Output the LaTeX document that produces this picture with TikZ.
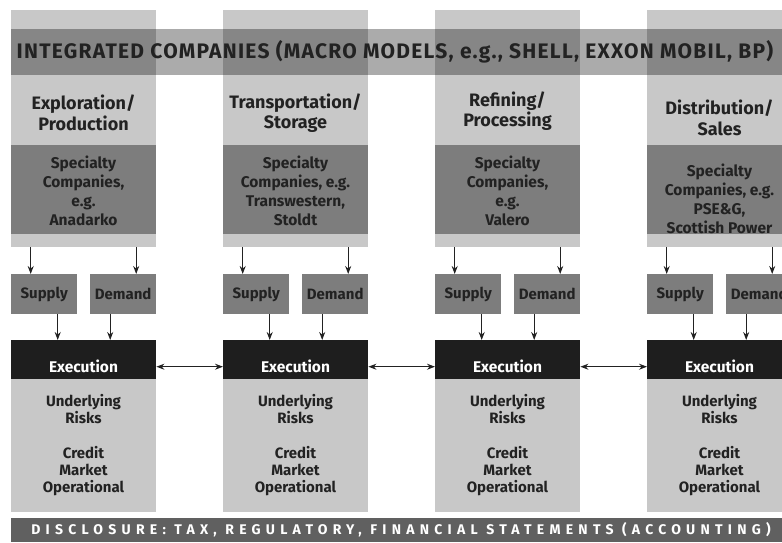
\documentclass[tikz,border=0pt]{standalone}
\usepackage{fontspec}
\setmainfont{Fira Sans}
\newfontfamily\bandfont[LetterSpace=6]{Fira Sans}
\newfontfamily\discfont[LetterSpace=37.5]{Fira Sans}
\usetikzlibrary{arrows.meta,positioning}
\definecolor{colgrey}{HTML}{C8C8C8}
\definecolor{boxgrey}{HTML}{7D7D7D}
\definecolor{discgrey}{HTML}{606060}
\definecolor{execblack}{HTML}{1E1E1E}
\definecolor{textgrey}{HTML}{222222}
\tikzset{
    %Define standard arrow tip
    >={Stealth[length=8pt,width=6pt]},
    %Define style for boxes
    colbox/.style={
           rectangle,
           fill=colgrey,
           inner sep=0pt,
           anchor=north west,
           minimum width=145pt,
           minimum height=237pt},
    specbox/.style={
           rectangle,
           fill=boxgrey,
           inner sep=0pt,
           anchor=north west,
           minimum width=145pt,
           minimum height=89pt},
    sdbox/.style={
           rectangle,
           fill=boxgrey,
           inner sep=0pt,
           anchor=north west,
           minimum width=66pt,
           minimum height=40pt,
           text=textgrey,
           font=\fontsize{15}{17}\selectfont\bfseries},
    execbox/.style={
           rectangle,
           fill=execblack,
           inner sep=0pt,
           anchor=north west,
           minimum width=145pt,
           minimum height=39pt},
    riskbox/.style={
           rectangle,
           fill=colgrey,
           inner sep=0pt,
           anchor=north west,
           minimum width=145pt,
           minimum height=133pt},
    headtxt/.style={
           align=center,
           text=textgrey,
           font=\fontsize{18}{20.5}\selectfont\bfseries},
    spectxt/.style={
           align=center,
           text=textgrey,
           font=\fontsize{15.5}{18.8}\selectfont\bfseries},
    risktxt/.style={
           align=center,
           text=textgrey,
           font=\fontsize{15}{17.2}\selectfont\bfseries},
    % Define arrow style
    pil/.style={
           ->,
           line width=1pt,
           draw=textgrey}
}

\begin{document}
\begin{tikzpicture}[x=1pt,y=-1pt]
\useasboundingbox (0,0) rectangle (782,542);
\clip (0,0) rectangle (782,542);
\foreach \i/\head/\spec/\hy/\sy in {
    1/{Exploration/\\Production}/{Specialty\\Companies,\\e.g.\\Anadarko}/113/191,
    2/{Transportation/\\Storage}/{Specialty\\Companies, e.g.\\Transwestern,\\Stoldt}/113/191,
    3/{Refining/\\Processing}/{Specialty\\Companies,\\e.g.\\Valero}/111/191,
    4/{Distribution/\\Sales}/{Specialty\\Companies, e.g.\\PSE\&G,\\Scottish Power}/118/199}
{
  \pgfmathsetmacro{\x}{11+212*(\i-1)}
  \node[colbox] (col\i) at (\x,10) {};
  \node[specbox] (spec\i) at (\x,145) {};
  \node[headtxt] (head\i) at (\x+72.5,\hy) {\head};
  \node[spectxt] (spectext\i) at (\x+72.5,\sy) {\spec};
  \node[sdbox] (sup\i) at (\x,274) {Supply};
  \node[sdbox] (dem\i) at (\x+79,274) {Demand};
  \node[execbox] (exec\i) at (\x,340) {};
  \node[text=white, font=\fontsize{15.5}{17}\selectfont\bfseries] (exectext\i) at (\x+72.5,366) {Execution};
  \node[riskbox] (risk\i) at (\x,379) {};
  \node[risktxt] (risktext\i) at (\x+72.5,445) {Underlying\\Risks\\[17.2pt]Credit\\Market\\Operational};
  \draw[pil] ([xshift=-13.5pt]sup\i.north |- col\i.south) -- ([xshift=-13.5pt]sup\i.north);
  \draw[pil] ([xshift=13pt]dem\i.north |- col\i.south) -- ([xshift=13pt]dem\i.north);
  \draw[pil] ([xshift=13.5pt]sup\i.south) -- ([xshift=13.5pt]sup\i.south |- exec\i.north);
  \draw[pil] ([xshift=-13pt]dem\i.south) -- ([xshift=-13pt]dem\i.south |- exec\i.north);
}
% integrated companies band
\fill[black, fill opacity=0.33] (11,29) rectangle (782,75);
\node[text=textgrey, font=\fontsize{21}{23}\selectfont\bandfont\bfseries] (integ) at (395,52) {INTEGRATED COMPANIES (MACRO MODELS, e.g., SHELL, EXXON MOBIL, BP)};
% disclosure band
\node[rectangle, fill=discgrey, inner sep=0pt, anchor=north west, minimum width=771pt, minimum height=24pt] (discband) at (11,518) {};
\node[text=white, font=\fontsize{14}{16}\selectfont\discfont\bfseries] (disc) at (401,530) {DISCLOSURE: TAX, REGULATORY, FINANCIAL STATEMENTS (ACCOUNTING)};
% links between execution boxes
\foreach \i/\j in {1/2,2/3,3/4}
  \draw[pil, <->] ([yshift=-7pt]exec\i.east) -- ([yshift=-7pt]exec\j.west);
\end{tikzpicture}
\end{document}
